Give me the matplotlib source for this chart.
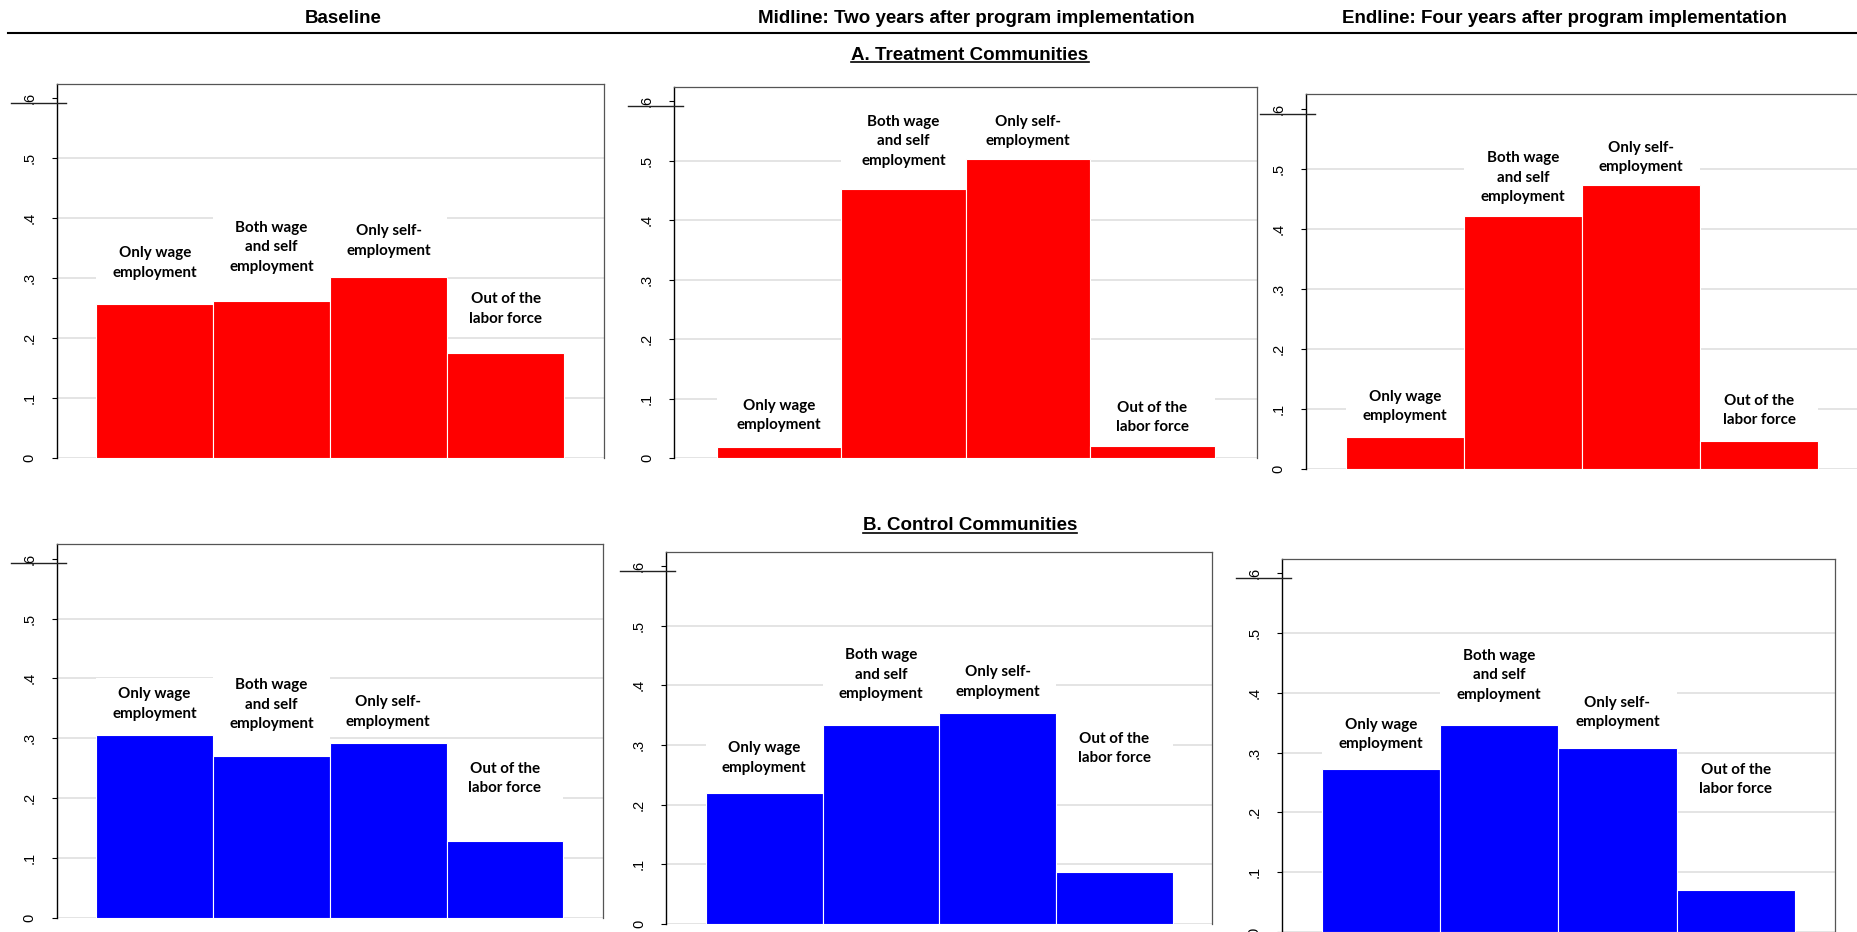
import matplotlib
matplotlib.use("Agg")
import matplotlib.pyplot as plt
from matplotlib.patches import Rectangle
from matplotlib.lines import Line2D
import matplotlib.transforms as mtransforms

# ---------------- data ----------------
categories = ["Only wage\nemployment", "Both wage\nand self\nemployment",
              "Only self-\nemployment", "Out of the\nlabor force"]
column_titles = ["Baseline",
                 "Midline: Two years after program implementation",
                 "Endline: Four years after program implementation"]
section_titles = ["A. Treatment Communities", "B. Control Communities"]
ytick_values = [0, 0.1, 0.2, 0.3, 0.4, 0.5, 0.6]
ytick_labels = ["0", ".1", ".2", ".3", ".4", ".5", ".6"]

treat_base = [0.257, 0.263, 0.302, 0.1755]
treat_mid = [0.0195, 0.453, 0.503, 0.0206]
treat_end = [0.0537, 0.4215, 0.4737, 0.046]
ctrl_base = [0.305, 0.271, 0.2915, 0.128]
ctrl_mid = [0.220, 0.334, 0.354, 0.0866]
ctrl_end = [0.2716, 0.3457, 0.3084, 0.0697]

# ---------------- layout ----------------
W, H = 1857, 932
fig = plt.figure(figsize=(W / 100, H / 100), dpi=100)
fig.patch.set_facecolor("white")

# (left px, right px, frame top px, zero-line px)
panels = [
    (treat_base, "#FF0000", (56.5, 603.8, 84.0, 458.3), [0.326, 0.352, 0.362, 0.249]),
    (treat_mid, "#FF0000", (674.4, 1257.0, 86.7, 458.3), [0.0718, 0.532, 0.549, 0.0688]),
    (treat_end, "#FF0000", (1305.6, 1858.5, 94.3, 469.0), [0.1043, 0.4853, 0.519, 0.0976]),
    (ctrl_base, "#0000FF", (56.5, 603.0, 544.3, 917.7), [0.3575, 0.356, 0.344, 0.2323]),
    (ctrl_mid, "#0000FF", (666.3, 1212.3, 552.0, 923.7), [0.2785, 0.418, 0.406, 0.294]),
    (ctrl_end, "#0000FF", (1281.7, 1834.9, 559.0, 931.7), [0.330, 0.429, 0.367, 0.255]),
]

YTOP = 0.624
XLIM = (0.16, 4.84)
LABEL_FONT = dict(family=["Lato", "DejaVu Sans"], fontweight="bold", fontsize=10.9)
TICK_FONT = ["Liberation Sans", "DejaVu Sans"]
HEAD_FONT = ["Liberation Sans", "DejaVu Sans"]

for vals, color, (l, r, t, y0), label_y in panels:
    ax = fig.add_axes([l / W, 1 - y0 / H, (r - l) / W, (y0 - t) / H])
    ax.set_xlim(*XLIM)
    ax.set_ylim(0, YTOP)
    ax.set_facecolor("none")
    px_per_unit = (y0 - t) / YTOP

    # grid lines
    for gv in ytick_values[:-1]:
        ax.axhline(gv, color="#dcdcdc", lw=1.1, zorder=1)

    xs = list(range(1, len(vals) + 1))
    ax.bar(xs, vals, width=1.0, color=color, edgecolor="white",
           linewidth=0.8, zorder=3)

    for xi, lab, yc in zip(xs, categories, label_y):
        nlines = lab.count("\n") + 1
        hh = (10 * nlines + 5.5) / px_per_unit
        ax.add_patch(Rectangle((xi - 0.5, yc - hh), 1.0, 2 * hh,
                               facecolor="white", edgecolor="none", zorder=2))
        ax.text(xi, yc, lab, ha="center", va="center", linespacing=1.5,
                zorder=4, color="black", **LABEL_FONT)

    ax.set_xticks([])
    ax.set_yticks(ytick_values)
    ax.set_yticklabels(ytick_labels, rotation=90, va="center",
                       family=TICK_FONT, fontsize=10.5)
    ax.tick_params(axis="y", length=3.6, width=0.8, pad=11, direction="out",
                   colors="black")
    ax.spines["bottom"].set_visible(False)
    ax.spines["left"].set_color("black")
    ax.spines["left"].set_linewidth(1.0)
    for s in ("top", "right"):
        ax.spines[s].set_color("#555555")
        ax.spines[s].set_linewidth(0.9)

    # stray horizontal stroke near the .6 tick
    wpx = r - l
    tr = mtransforms.blended_transform_factory(ax.transAxes, ax.transData)
    ax.add_line(Line2D([-46 / wpx, 9 / wpx], [0.592, 0.592], transform=tr,
                       color="#222222", lw=1.0, clip_on=False, zorder=5))

# column headers
header_x = [343, 976, 1564]
for hx, txt in zip(header_x, column_titles):
    fig.text(hx / W, 1 - 23.4 / H, txt, ha="center", va="baseline",
             family=HEAD_FONT, fontweight="bold", fontsize=13.5)
fig.add_artist(Line2D([8 / W, 1.0], [1 - 33 / H, 1 - 33 / H],
                      transform=fig.transFigure, color="black", lw=1.5))

# section titles with underline
sec_pos = [(970, 59.5), (970, 530.5)]
sec_texts = []
for (sx, sy), txt in zip(sec_pos, section_titles):
    st = fig.text(sx / W, 1 - sy / H, txt, ha="center", va="baseline",
                  family=HEAD_FONT, fontweight="bold", fontsize=13.5)
    sec_texts.append((st, sy))

fig.canvas.draw()
renderer = fig.canvas.get_renderer()
for st, sy in sec_texts:
    bb = st.get_window_extent(renderer)
    yl = 1 - (sy + 2.8) / H
    fig.add_artist(Line2D([bb.x0 / W, bb.x1 / W], [yl, yl],
                          transform=fig.transFigure, color="black", lw=1.2))

fig.savefig("out.png", dpi=100, facecolor="white")
